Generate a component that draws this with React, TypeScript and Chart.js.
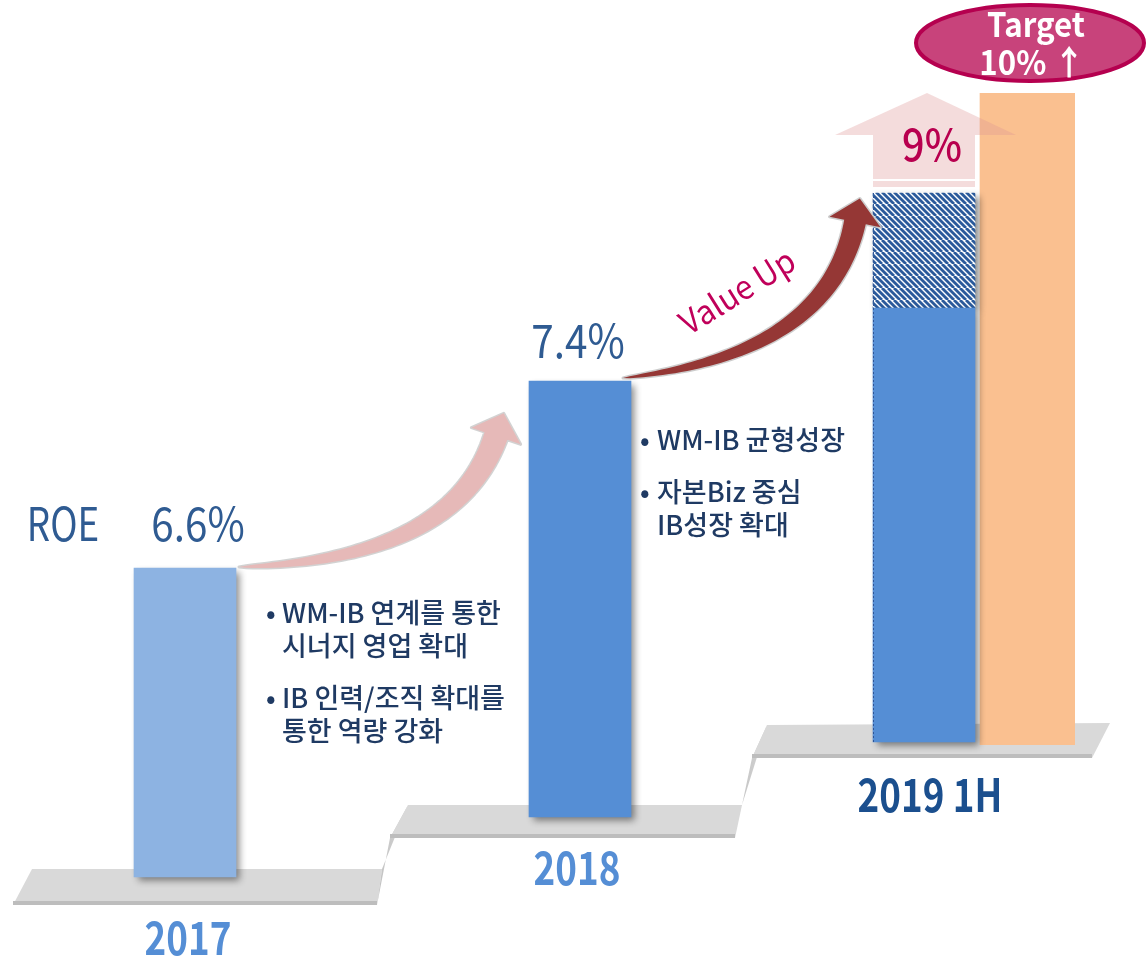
import React, { useEffect, useRef } from 'react';
import { Chart, registerables } from 'chart.js';

Chart.register(...registerables);

// ---------------- data ----------------
const categories = ['2017', '2018', '2019 1H'];
const roeLabels = ['6.6%', '7.4%', '9%'];
const axisTitle = 'ROE';
const targetText = ['Target', '10% ↑'];
const trendText = 'Value Up';
const bulletNotes: string[][][] = [
  [['WM-IB 연계를 통한', '시너지 영업 확대'], ['IB 인력/조직 확대를', '통한 역량 강화']],
  [['WM-IB 균형성장'], ['자본Biz 중심', 'IB성장 확대']],
];
// levels on the hidden value axis (0 = foot of the picture, 957 = its top)
const barBase = [80, 140, 215];
const barTop = [389, 576, 649];
const hatchTop: (number | null)[] = [null, null, 764];
const arrowBottom: (number | null)[] = [null, null, 778];
const arrowTop: (number | null)[] = [null, null, 864];
const targetBase: (number | null)[] = [null, null, 212];
const targetTop: (number | null)[] = [null, null, 864];

const roeData = categories.map((_, i) => [barBase[i], barTop[i]]);
const hatchData = categories.map((_, i) => (hatchTop[i] == null ? null : [barTop[i], hatchTop[i] as number]));
const arrowData = categories.map((_, i) => (arrowTop[i] == null ? null : [arrowBottom[i] as number, arrowTop[i] as number]));
const targetData = categories.map((_, i) => (targetTop[i] == null ? null : [targetBase[i] as number, targetTop[i] as number]));

// ---------------- styles ----------------
const FONT = '"Noto Sans CJK KR", "Noto Sans", sans-serif';
const W = 1147;
const H = 957;

type TxtOpt = { size: number; color: string; weight?: number; align?: CanvasTextAlign; baseline?: CanvasTextBaseline; sx?: number; rot?: number };
function txt(ctx: CanvasRenderingContext2D, s: string, x: number, y: number, o: TxtOpt) {
  ctx.save();
  ctx.translate(x, y);
  if (o.rot) ctx.rotate(o.rot);
  ctx.scale(o.sx ?? 1, 1);
  ctx.font = `${o.weight ?? 400} ${o.size}px ${FONT}`;
  ctx.fillStyle = o.color;
  ctx.textAlign = o.align ?? 'left';
  ctx.textBaseline = o.baseline ?? 'alphabetic';
  ctx.fillText(s, 0, 0);
  ctx.restore();
}

type P = [number, number];
function curvedArrow(ctx: CanvasRenderingContext2D, p0: P, p1: P, p2: P, shaftW: number, headW: number, headLen: number, fill: string, stroke: string) {
  const N = 60;
  const L: P[] = [];
  const R: P[] = [];
  for (let i = 0; i <= N; i++) {
    const t = i / N;
    const x = (1 - t) * (1 - t) * p0[0] + 2 * (1 - t) * t * p1[0] + t * t * p2[0];
    const y = (1 - t) * (1 - t) * p0[1] + 2 * (1 - t) * t * p1[1] + t * t * p2[1];
    const dx = 2 * (1 - t) * (p1[0] - p0[0]) + 2 * t * (p2[0] - p1[0]);
    const dy = 2 * (1 - t) * (p1[1] - p0[1]) + 2 * t * (p2[1] - p1[1]);
    const len = Math.hypot(dx, dy) || 1;
    const nx = -dy / len;
    const ny = dx / len;
    const w = (shaftW / 2) * Math.pow(t, 0.6);
    L.push([x + nx * w, y + ny * w]);
    R.push([x - nx * w, y - ny * w]);
  }
  const ex = p2[0] - p1[0];
  const ey = p2[1] - p1[1];
  const el = Math.hypot(ex, ey);
  const tx = ex / el;
  const ty = ey / el;
  const nx = -ty;
  const ny = tx;
  ctx.save();
  ctx.beginPath();
  ctx.moveTo(L[0][0], L[0][1]);
  for (const p of L) ctx.lineTo(p[0], p[1]);
  ctx.lineTo(p2[0] + (nx * headW) / 2, p2[1] + (ny * headW) / 2);
  ctx.lineTo(p2[0] + tx * headLen, p2[1] + ty * headLen);
  ctx.lineTo(p2[0] - (nx * headW) / 2, p2[1] - (ny * headW) / 2);
  for (let i = N; i >= 0; i--) ctx.lineTo(R[i][0], R[i][1]);
  ctx.closePath();
  ctx.strokeStyle = stroke;
  ctx.lineWidth = 3;
  ctx.lineJoin = 'round';
  ctx.stroke();
  ctx.fillStyle = fill;
  ctx.fill();
  ctx.restore();
}

// decorative stair ribbon (upper and lower edge polylines)
const STAIR_TOP: P[] = [[32, 869], [382, 869], [408, 805], [742, 805], [767, 725], [1110, 723]];
const STAIR_BOT: P[] = [[13, 905], [377, 905], [390, 838], [735, 838], [752, 758], [1092, 758]];

const stairPlugin = {
  id: 'stairs',
  beforeDatasetsDraw(chart: any) {
    const ctx: CanvasRenderingContext2D = chart.ctx;
    ctx.save();
    for (let i = 0; i < STAIR_TOP.length - 1; i++) {
      const a = STAIR_TOP[i], b = STAIR_TOP[i + 1], c = STAIR_BOT[i + 1], d = STAIR_BOT[i];
      ctx.beginPath();
      ctx.moveTo(a[0], a[1]);
      ctx.lineTo(b[0], b[1]);
      ctx.lineTo(c[0], c[1]);
      ctx.lineTo(d[0], d[1]);
      ctx.closePath();
      if (i % 2 === 0) {
        ctx.fillStyle = '#d9d9d9';
        ctx.fill();
        ctx.beginPath();
        ctx.moveTo(d[0], d[1] - 2);
        ctx.lineTo(c[0], c[1] - 2);
        ctx.strokeStyle = '#bdbdbd';
        ctx.lineWidth = 4;
        ctx.stroke();
      } else {
        const g = ctx.createLinearGradient(d[0], 0, b[0], 0);
        g.addColorStop(0, '#c2c2c2');
        g.addColorStop(1, '#d4d4d4');
        ctx.fillStyle = g;
        ctx.fill();
      }
    }
    ctx.restore();
  },
};

const shadowPlugin = {
  id: 'barShadow',
  beforeDatasetDraw(chart: any, args: any) {
    if (args.index === 0 || args.index === 1) {
      const ctx = chart.ctx;
      ctx.save();
      ctx.shadowColor = 'rgba(0,0,0,0.45)';
      ctx.shadowBlur = 7;
      ctx.shadowOffsetX = 4;
      ctx.shadowOffsetY = 4;
    }
  },
  afterDatasetDraw(chart: any, args: any) {
    if (args.index === 0 || args.index === 1) chart.ctx.restore();
  },
};

const decorPlugin = {
  id: 'decor',
  afterDatasetsDraw(chart: any) {
    const ctx: CanvasRenderingContext2D = chart.ctx;
    const roe = chart.getDatasetMeta(0).data;
    const hatch = chart.getDatasetMeta(1).data;
    const arrow = chart.getDatasetMeta(2).data;
    const target = chart.getDatasetMeta(3).data;
    const box = (e: any) => ({ left: e.x - e.width / 2, right: e.x + e.width / 2, top: Math.min(e.y, e.base), bottom: Math.max(e.y, e.base), x: e.x });
    const b0 = box(roe[0]);
    const b1 = box(roe[1]);
    const b2 = box(roe[2]);
    const h2 = box(hatch[2]);
    const a2 = box(arrow[2]);
    const t2 = box(target[2]);

    // dashed outline on the left of the 2019 bar
    ctx.save();
    ctx.strokeStyle = '#2f5597';
    ctx.setLineDash([2, 2]);
    ctx.lineWidth = 1;
    ctx.beginPath();
    ctx.moveTo(b2.left + 0.5, b2.bottom);
    ctx.lineTo(b2.left + 0.5, h2.top);
    ctx.stroke();
    ctx.restore();

    // pink curved arrow 2017 -> 2018
    curvedArrow(ctx, [b0.right + 3, b0.top - 1], [b1.left - 75, b0.top - 8], [b1.left - 33, b1.top + 55], 24, 52, 24, '#e6b9b8', 'rgba(205,205,205,0.9)');
    // dark red curved arrow 2018 -> 2019
    curvedArrow(ctx, [b1.right - 8, b1.top - 3], [h2.left - 45, b1.top - 26], [h2.left - 18, h2.top + 29], 22, 52, 24, '#953735', 'rgba(200,200,200,0.9)');

    // block arrow on top of the 2019 bar
    const headLen = 42;
    const headHalf = 89;
    const fillA = 'rgba(222,150,148,0.33)';
    ctx.save();
    ctx.fillStyle = fillA;
    ctx.beginPath();
    ctx.moveTo(a2.left, a2.bottom);
    ctx.lineTo(a2.left, a2.top + headLen);
    ctx.lineTo(a2.x - headHalf, a2.top + headLen);
    ctx.lineTo(a2.x + 3, a2.top);
    ctx.lineTo(a2.x + headHalf + 3, a2.top + headLen);
    ctx.lineTo(a2.right, a2.top + headLen);
    ctx.lineTo(a2.right, a2.bottom);
    ctx.closePath();
    ctx.fill();
    ctx.fillRect(a2.left, a2.bottom + 2, a2.right - a2.left, 6);
    ctx.restore();

    // target ellipse
    const cx = t2.x + 5;
    const cy = t2.top - 50;
    ctx.save();
    ctx.beginPath();
    ctx.ellipse(cx, cy, 114, 38, 0, 0, Math.PI * 2);
    ctx.fillStyle = '#c8437b';
    ctx.fill();
    ctx.lineWidth = 4;
    ctx.strokeStyle = '#b5004f';
    ctx.stroke();
    ctx.restore();
    txt(ctx, targetText[0], cx + 6, cy - 6, { size: 34, weight: 700, color: '#ffffff', align: 'center', sx: 0.92 });
    txt(ctx, targetText[1], cx + 2, cy + 32, { size: 34, weight: 700, color: '#ffffff', align: 'center', sx: 0.92 });

    // value labels
    const valStyle = { size: 46, color: '#2f5b92', align: 'center' as CanvasTextAlign, sx: 0.88 };
    txt(ctx, roeLabels[0], b0.x + 13, b0.top - 27, valStyle);
    txt(ctx, roeLabels[1], b1.x - 2, b1.top - 23, valStyle);
    txt(ctx, axisTitle, b0.x - 122, b0.top - 27, { ...valStyle, sx: 0.8 });
    txt(ctx, roeLabels[2], a2.x + 8, a2.top + headLen + 26, { size: 44, weight: 500, color: '#b8004f', align: 'center', sx: 0.9 });

    // Value Up
    txt(ctx, trendText, b1.right + 106, b1.top - 90, { size: 33, color: '#c0005a', align: 'center', baseline: 'middle', sx: 0.95, rot: (-32 * Math.PI) / 180 });

    // bullet notes
    const noteAnchor = [
      { bx: b0.right + 30, tx: b0.right + 46, y: b0.top + 55 },
      { bx: b1.right + 9, tx: b1.right + 26, y: b1.top + 69 },
    ];
    const noteStyle = { size: 27, weight: 500, color: '#1f3a63' };
    bulletNotes.forEach((items, g) => {
      let y = noteAnchor[g].y;
      items.forEach((lines, k) => {
        if (k > 0) y += 52;
        lines.forEach((line, j) => {
          if (j > 0) y += 33;
          if (j === 0) txt(ctx, '•', noteAnchor[g].bx, y, noteStyle);
          txt(ctx, line, noteAnchor[g].tx, y, noteStyle);
        });
      });
    });

    // category labels under each step
    const yearDrop = [78, 68, 70];
    const yearShift = [3, -3, 6];
    const yearColor = ['#558ed5', '#558ed5', '#1b4f8e'];
    [b0, b1, b2].forEach((b, i) => {
      txt(ctx, categories[i], b.x + yearShift[i], b.bottom + yearDrop[i], { size: 46, weight: 700, color: yearColor[i], align: 'center', sx: 0.8 });
    });
  },
};

export default function App() {
  const ref = useRef<HTMLCanvasElement | null>(null);
  useEffect(() => {
    document.body.style.margin = '0';
    const canvas = ref.current;
    if (!canvas) return;
    const ctx = canvas.getContext('2d') as CanvasRenderingContext2D;

    // diagonal hatch pattern
    const pc = document.createElement('canvas');
    pc.width = 12;
    pc.height = 12;
    const p = pc.getContext('2d') as CanvasRenderingContext2D;
    p.fillStyle = '#ffffff';
    p.fillRect(0, 0, 12, 12);
    p.strokeStyle = '#2b5a9b';
    p.lineWidth = 2.8;
    for (const k of [-12, -6, 0, 6, 12]) {
      p.beginPath();
      p.moveTo(k, 0);
      p.lineTo(k + 12, 12);
      p.stroke();
    }
    const pattern = ctx.createPattern(pc, 'repeat') as CanvasPattern;

    const chart = new Chart(canvas, {
      type: 'bar',
      data: {
        labels: categories,
        datasets: [
          { label: 'ROE', data: roeData as any, stack: 'a', backgroundColor: ['#8db3e2', '#558ed5', '#558ed5'], barThickness: 102 },
          { label: 'ROE 상승분', data: hatchData as any, stack: 'a', backgroundColor: pattern as any, barThickness: 102 },
          { label: '9%', data: arrowData as any, stack: 'a', backgroundColor: 'rgba(0,0,0,0)', barThickness: 102 },
          {
            label: 'Target',
            data: targetData as any,
            stack: 'b',
            backgroundColor: '#fac090',
            barThickness: 100,
            borderWidth: { left: 5, top: 0, right: 0, bottom: 0 } as any,
            borderColor: 'rgba(0,0,0,0)',
            borderSkipped: false,
          },
        ],
      },
      options: {
        responsive: false,
        animation: false,
        layout: { padding: { left: 185, right: 172, top: 0, bottom: 0 } },
        datasets: { bar: { skipNull: true, clip: false as any, grouped: true } },
        plugins: { legend: { display: false }, tooltip: { enabled: false } },
        scales: {
          x: { type: 'category', offset: false, display: false, grid: { display: false } },
          y: { type: 'linear', min: 0, max: H, display: false, stacked: false },
        },
      },
      plugins: [stairPlugin, shadowPlugin, decorPlugin],
    });
    return () => chart.destroy();
  }, []);
  return (
    <div style={{ width: W, height: H, background: '#ffffff' }}>
      <canvas ref={ref} width={W} height={H} style={{ display: 'block' }} />
    </div>
  );
}
